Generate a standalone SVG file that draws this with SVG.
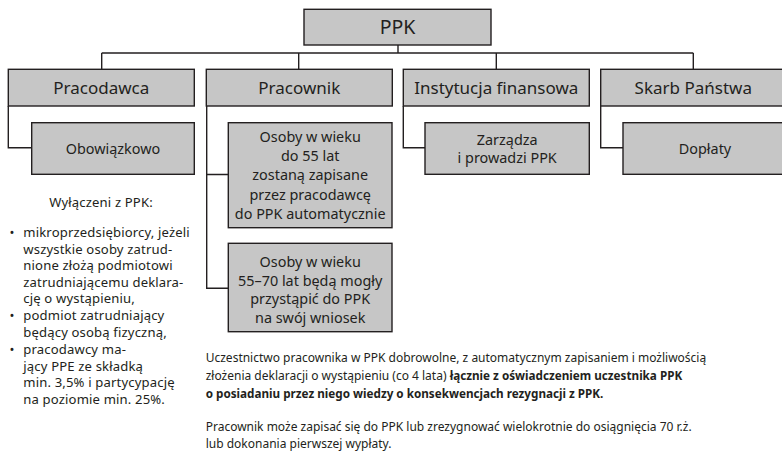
<svg xmlns="http://www.w3.org/2000/svg" width="782" height="452" viewBox="0 0 782 452">
<style>
.box{fill:#c6c6c6;stroke:#231f20;stroke-width:1.4}
.ln{fill:none;stroke:#231f20;stroke-width:1.4}
text{font-family:"Noto Sans","Open Sans",sans-serif;fill:#231f20}
.t1{font-size:19.5px;text-anchor:middle}
.t2{font-size:17px;text-anchor:middle}
.t3{font-size:14.4px;text-anchor:middle}
.t4{font-size:13.1px;letter-spacing:0.15px}
.t5{font-size:12px}
.b{font-weight:bold;font-size:11.7px}
</style>
<rect width="782" height="452" fill="#fff"/>
<g id="connectors">
<path class="ln" d="M398 45V53M101.7 53H693.3M101.7 53V69M298.7 53V69M496.3 53V69M693.3 53V69"/>
<path class="ln" d="M8.3 106V147.7H31.7"/>
<path class="ln" d="M206.7 106V288.3H228.3M206.7 174.5H228.3"/>
<path class="ln" d="M403.3 106V147.7H425"/>
<path class="ln" d="M600.7 106V147.7H623"/>
</g>
<g id="ppk"><rect class="box" x="304" y="9.3" width="187" height="35.7"/><text class="t1" x="397.5" y="34">PPK</text></g>
<g id="pracodawca"><rect class="box" x="8.3" y="69.3" width="186" height="36.7"/><text class="t2" x="101.3" y="93.8">Pracodawca</text></g>
<g id="pracownik"><rect class="box" x="206.3" y="69.3" width="186" height="36.7"/><text class="t2" x="299.3" y="93.8">Pracownik</text></g>
<g id="instytucja"><rect class="box" x="403.3" y="69.3" width="186" height="36.7"/><text class="t2" x="496.3" y="93.8">Instytucja finansowa</text></g>
<g id="skarb"><rect class="box" x="600.7" y="69.3" width="186" height="36.7"/><text class="t2" x="693.3" y="93.8">Skarb Państwa</text></g>
<g id="obowiazkowo"><rect class="box" x="31.7" y="122.7" width="162.6" height="51.6"/><text class="t3" x="113" y="153.8">Obowiązkowo</text></g>
<g id="osoby55"><rect class="box" x="228.3" y="122.7" width="163.7" height="105"/><text class="t3"><tspan x="310.2" y="141.8">Osoby w wieku</tspan><tspan x="310.2" y="161.1">do 55 lat</tspan><tspan x="310.2" y="180.4">zostaną zapisane</tspan><tspan x="310.2" y="199.7">przez pracodawcę</tspan><tspan x="310.2" y="219">do PPK automatycznie</tspan></text></g>
<g id="osoby5570"><rect class="box" x="228.3" y="243.3" width="163.7" height="88.4"/><text class="t3"><tspan x="310.2" y="266.8">Osoby w wieku</tspan><tspan x="310.2" y="285.6">55–70 lat będą mogły</tspan><tspan x="310.2" y="304.4">przystąpić do PPK</tspan><tspan x="310.2" y="323.2">na swój wniosek</tspan></text></g>
<g id="zarzadza"><rect class="box" x="425" y="122.7" width="164.3" height="51.6"/><text class="t3"><tspan x="507.2" y="144.8">Zarządza</tspan><tspan x="507.2" y="162.8">i prowadzi PPK</tspan></text></g>
<g id="doplaty"><rect class="box" x="623" y="122.7" width="164" height="51.6"/><text class="t3" x="705" y="153.8">Dopłaty</text></g>
<g id="wylaczeni">
<text class="t4" x="101" y="207" text-anchor="middle">Wyłączeni z PPK:</text>
<text class="t4"><tspan x="9.5" y="237">•</tspan><tspan x="23.3" y="237">mikroprzedsiębiorcy, jeżeli</tspan><tspan x="23.3" y="253.6">wszystkie osoby zatrud-</tspan><tspan x="23.3" y="270.2">nione złożą podmiotowi</tspan><tspan x="23.3" y="286.8">zatrudniającemu deklara-</tspan><tspan x="23.3" y="303.4">cję o wystąpieniu,</tspan>
<tspan x="9.5" y="320.4">•</tspan><tspan x="23.3" y="320.4">podmiot zatrudniający</tspan><tspan x="23.3" y="337">będący osobą fizyczną,</tspan>
<tspan x="9.5" y="354.2">•</tspan><tspan x="23.3" y="354.2">pracodawcy ma-</tspan><tspan x="23.3" y="370.8">jący PPE ze składką</tspan><tspan x="23.3" y="387.4">min. 3,5% i partycypację</tspan><tspan x="23.3" y="404">na poziomie min. 25%.</tspan></text>
</g>
<g id="opis">
<text class="t5"><tspan x="205.7" y="361.5">Uczestnictwo pracownika w PPK dobrowolne, z automatycznym zapisaniem i możliwością</tspan><tspan x="205.7" y="380">złożenia deklaracji o wystąpieniu (co 4 lata) <tspan class="b">łącznie z oświadczeniem uczestnika PPK</tspan></tspan><tspan class="b" x="205.7" y="398.3">o posiadaniu przez niego wiedzy o konsekwencjach rezygnacji z PPK.</tspan></text>
<text class="t5"><tspan x="205.7" y="430.5">Pracownik może zapisać się do PPK lub zrezygnować wielokrotnie do osiągnięcia 70 r.ż.</tspan><tspan x="205.7" y="448.3">lub dokonania pierwszej wypłaty.</tspan></text>
</g>
</svg>
